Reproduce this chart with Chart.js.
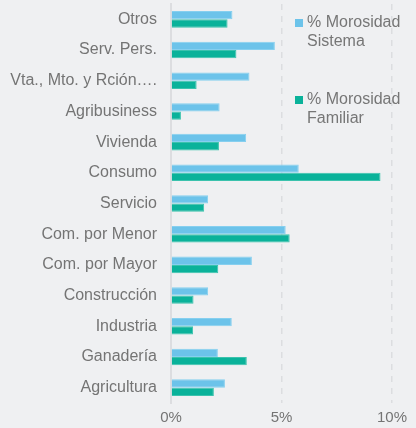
<!DOCTYPE html>
<html>
<head>
<meta charset="utf-8">
<script src="https://cdn.jsdelivr.net/npm/chart.js@4/dist/chart.umd.min.js"></script>
<style>
  html, body { margin: 0; padding: 0; background: #eff0f2; }
  #wrap { position: relative; width: 416px; height: 428px; }
  .legend-item { position: absolute; left: 295px; font: 16px "Liberation Sans", Arial, sans-serif; color: #767676; line-height: 19px; }
  .legend-item .sw { position: absolute; left: 0; top: 7px; width: 8px; height: 8px; }
  .legend-item .txt { margin-left: 12px; white-space: nowrap; }
</style>
</head>
<body>
<div id="wrap">
  <canvas id="chart" width="416" height="428"></canvas>
  <div id="legend"></div>
</div>
<script>
const categories = [
  'Otros', 'Serv. Pers.', 'Vta., Mto. y Rción….', 'Agribusiness', 'Vivienda', 'Consumo',
  'Servicio', 'Com. por Menor', 'Com. por Mayor', 'Construcción', 'Industria', 'Ganadería', 'Agricultura',
];
const morosidadSistema = [2.78, 4.7, 3.55, 2.2, 3.4, 5.78, 1.68, 5.19, 3.66, 1.68, 2.75, 2.12, 2.44];
const morosidadFamiliar = [2.56, 2.96, 1.16, 0.45, 2.17, 9.48, 1.5, 5.37, 2.14, 1.02, 1.0, 3.43, 1.94];
const seriesNames = [['% Morosidad', 'Sistema'], ['% Morosidad', 'Familiar']];
const xTicks = [0, 5, 10];

const COLORS = {
  blue: '#6cc3ea',
  blueEdge: '#86cfef',
  green: '#0ab29a',
  greenEdge: '#3bc2ad',
  text: '#747474',
  grid: '#dcdde0',
};
const FONT = '"Liberation Sans", Arial, sans-serif';

const datasets = [
  { label: seriesNames[0].join(' '), data: morosidadSistema, backgroundColor: COLORS.blue, borderColor: COLORS.blueEdge },
  { label: seriesNames[1].join(' '), data: morosidadFamiliar, backgroundColor: COLORS.green, borderColor: COLORS.greenEdge },
].map(ds => ({ ...ds, borderWidth: 1, barPercentage: 1, categoryPercentage: 0.54 }));

// legend sits over the plot, so it's plain html
const legendTops = [12, 89];
document.getElementById('legend').innerHTML = datasets.map((ds, i) =>
  `<div class="legend-item" style="top:${legendTops[i]}px">
     <span class="sw" style="background:${ds.backgroundColor}"></span>
     <div class="txt">${seriesNames[i].join('<br>')}</div>
   </div>`).join('');

new Chart(document.getElementById('chart'), {
  type: 'bar',
  data: { labels: categories, datasets },
  options: {
    indexAxis: 'y',
    responsive: false,
    animation: false,
    layout: { padding: { top: 4, right: 24, left: 0, bottom: 0 } },
    plugins: { legend: { display: false }, tooltip: { enabled: false } },
    scales: {
      x: {
        min: 0,
        max: 10,
        afterBuildTicks(scale) { scale.ticks = xTicks.map(v => ({ value: v })); },
        afterFit(scale) { scale.height = 25; },
        ticks: { padding: 6, color: COLORS.text, font: { family: FONT, size: 15 }, callback: v => v + '%' },
        grid: { drawTicks: false, lineWidth: 1.5, color: ctx => (ctx.tick && ctx.tick.value === 0 ? 'transparent' : COLORS.grid) },
        border: { display: false, dash: [6, 6] },
      },
      y: {
        afterFit(scale) {
          scale.width = 171;
          scale.paddingTop = 0;
          scale.paddingBottom = 0;
        },
        ticks: { padding: 14, color: COLORS.text, font: { family: FONT, size: 16 } },
        grid: { display: false, drawTicks: false },
        border: { display: true, color: COLORS.grid, width: 2 },
      },
    },
  },
});
</script>
</body>
</html>
